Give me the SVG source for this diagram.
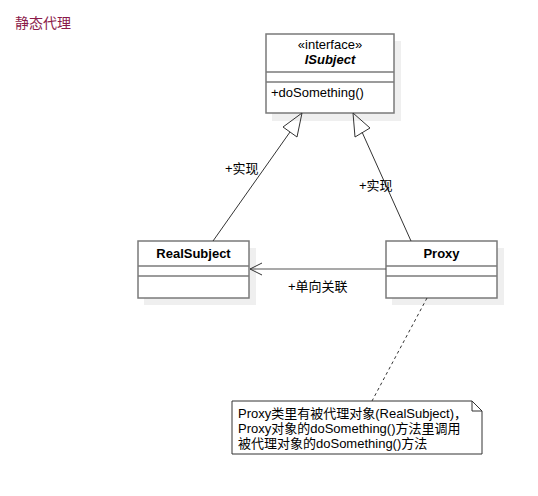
<svg xmlns="http://www.w3.org/2000/svg" width="538" height="496" viewBox="0 0 538 496">
<style>
text{font-family:"Liberation Sans","Noto Sans CJK SC",sans-serif;font-size:13px;fill:#000}
.box{fill:#fff;stroke:#7a7a7a;stroke-width:1.5}
.sh{fill:#efefef}
.sep{stroke:#7a7a7a;stroke-width:1.5}
.ln{stroke:#333;stroke-width:1;fill:none}
.title{font-size:14px;fill:#8b1a4a}
</style>
<rect width="538" height="496" fill="#fff"/>
<text class="title" x="15" y="28">静态代理</text>
<g id="ISubject">
<rect class="sh" x="272" y="41" width="129" height="80"/>
<rect class="box" x="266" y="34" width="128" height="79"/>
<line class="sep" x1="266" y1="72" x2="394" y2="72"/>
<line class="sep" x1="266" y1="82" x2="394" y2="82"/>
<text x="330" y="49" text-anchor="middle">«interface»</text>
<text x="330" y="64" text-anchor="middle" font-weight="bold" font-style="italic">ISubject</text>
<text x="271" y="97">+doSomething()</text>
</g>
<g id="RealSubject">
<rect class="sh" x="144" y="248" width="112" height="57"/>
<rect class="box" x="138" y="241" width="111" height="57"/>
<line class="sep" x1="138" y1="266" x2="249" y2="266"/>
<line class="sep" x1="138" y1="276" x2="249" y2="276"/>
<text x="193.5" y="258" text-anchor="middle" font-weight="bold">RealSubject</text>
</g>
<g id="Proxy">
<rect class="sh" x="392" y="248" width="112" height="57"/>
<rect class="box" x="386" y="241" width="111" height="57"/>
<line class="sep" x1="386" y1="266" x2="497" y2="266"/>
<line class="sep" x1="386" y1="276" x2="497" y2="276"/>
<text x="441.5" y="258" text-anchor="middle" font-weight="bold">Proxy</text>
</g>
<g id="Note">
<path d="M232 401 H472 L482 411 V454 H232 Z" fill="#fff" stroke="#333" stroke-width="1"/>
<path d="M472 401 V411 H482" fill="none" stroke="#333" stroke-width="1"/>
<text x="238" y="418">Proxy类里有被代理对象(RealSubject)，</text>
<text x="238" y="433">Proxy对象的doSomething()方法里调用</text>
<text x="238" y="448">被代理对象的doSomething()方法</text>
</g>
<g id="connectors">
<line class="ln" x1="213" y1="241" x2="290" y2="132"/>
<path class="ln" d="M302 113 L283 127 L297 137 Z" fill="#fff"/>
<line class="ln" x1="411" y1="241" x2="362" y2="132"/>
<path class="ln" d="M353 113 L355 137 L370 128 Z" fill="#fff"/>
<line x1="386" y1="269" x2="250" y2="269" stroke="#555" stroke-width="1.2"/>
<path class="ln" d="M262 263 L250 269 L262 275"/>
<line class="ln" x1="427" y1="298" x2="372" y2="401" stroke-dasharray="3,3"/>
<text x="225" y="173">+实现</text>
<text x="359" y="190">+实现</text>
<text x="288" y="291">+单向关联</text>
</g>
</svg>
